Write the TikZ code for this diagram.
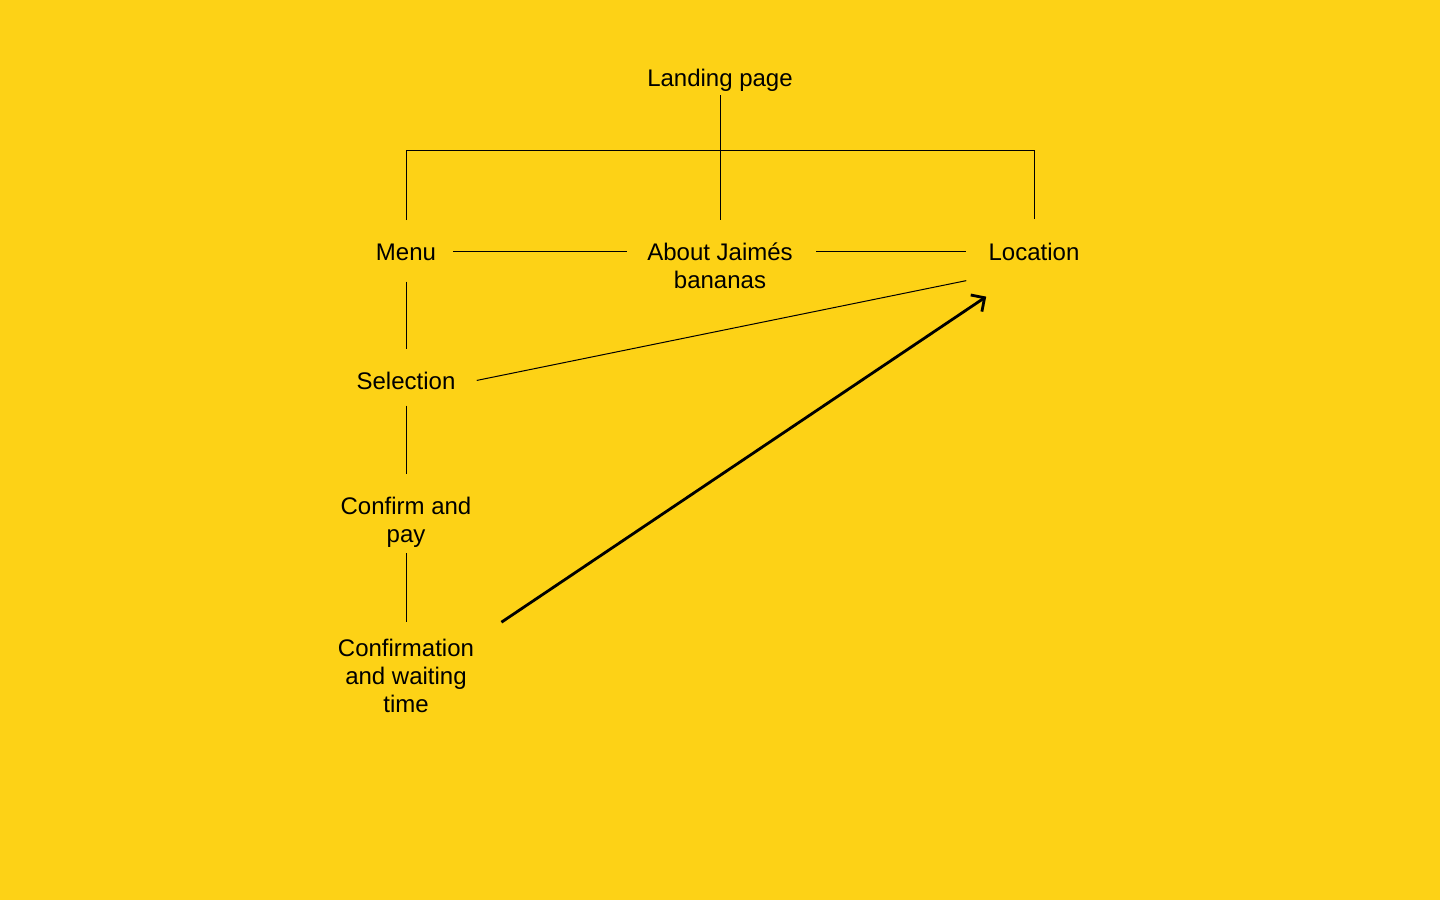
\documentclass[tikz,border=0pt]{standalone}
\usepackage{fontspec}
\setmainfont{Liberation Sans}
\usetikzlibrary{positioning,calc,arrows.meta}
\definecolor{backgroundColor}{RGB}{253,210,22}
\tikzstyle{sitemap} = [x = 0.5pt, y = -0.5pt]
\tikzstyle{pageLabel} = [font=\fontsize{12}{14}\selectfont, align=center, inner sep=0pt, anchor=base]
\tikzstyle{linkLine} = [color=black, line width=0.5pt]
\tikzstyle{jumpArrow} = [color=black, line width=1.4pt, -{Straight Barb[length=5pt,width=10pt]}]
\begin{document}
\begin{tikzpicture}[sitemap]
        \fill [backgroundColor] (0,0) rectangle (1440,900);

        % base of a multi-line label is its last line
        \node [pageLabel] (landing) at (720,86) {Landing page};
        \node [pageLabel] (menu) at (406,260) {Menu};
        \node [pageLabel] (about) at (720,288) {About Jaimés\\bananas};
        \node [pageLabel] (location) at (1034,260) {Location};
        \node [pageLabel] (selection) at (406,389) {Selection};
        \node [pageLabel] (confirm) at (406,542) {Confirm and\\pay};
        \node [pageLabel] (waiting) at (406,712) {Confirmation\\and waiting\\time};
        \coordinate (bar) at (720,150);

        \draw [linkLine, shorten <=2pt, shorten >=11pt] (landing.south) -- (about.north);
        \draw [linkLine, shorten <=11.5pt, shorten >=11.5pt] (menu.north) -- (menu.north |- bar) -- (location.north |- bar) -- (location.north);
        \draw [linkLine, shorten <=8.5pt, shorten >=10pt] (menu.east) -- (about.west |- menu.east);
        \draw [linkLine, shorten <=11.5pt, shorten >=11pt] (about.east |- location.west) -- (location.west);
        \draw [linkLine, shorten <=10.5pt, shorten >=11pt] (menu.south) -- (selection.north);
        \draw [linkLine, shorten <=8pt, shorten >=11pt] (selection.south) -- (confirm.north);
        \draw [linkLine, shorten <=3pt, shorten >=8pt] (confirm.south) -- (waiting.north);
        \draw [linkLine] ($(selection.east)+(21,0)$) -- ($(location.south west)+(-22,20)$);
        \draw [jumpArrow] ($(waiting.north east)+(27,-16)$) -- ($(location.south west)+(-2,36)$);
      \end{tikzpicture}
\end{document}
